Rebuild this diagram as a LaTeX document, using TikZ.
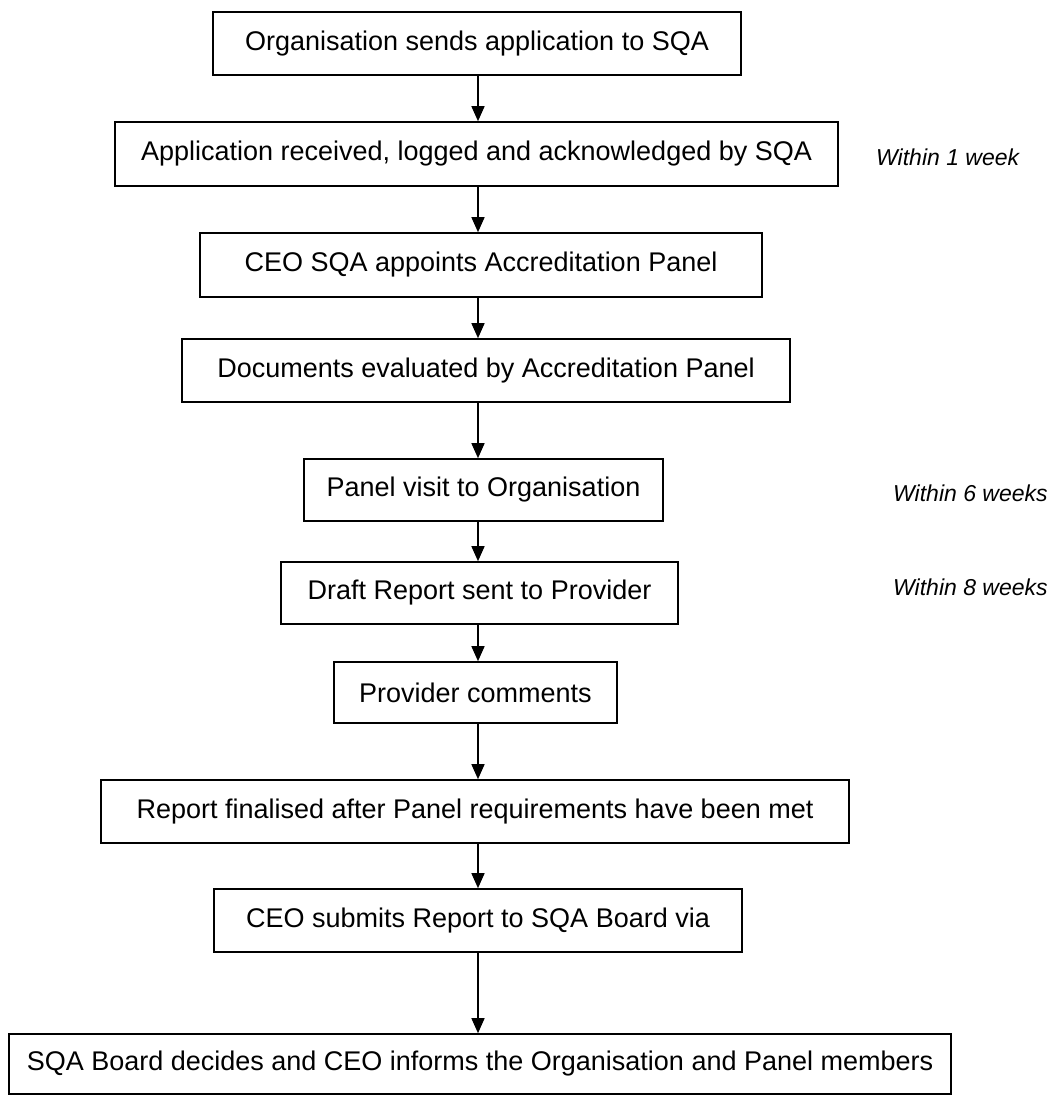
\documentclass[tikz,border=0pt]{standalone}
\usepackage{fontspec}
\setmainfont{Liberation Sans}
\usetikzlibrary{arrows.meta}
\begin{document}
\begin{tikzpicture}[x=1pt,y=1pt,
  stepbox/.style={draw=black,line width=1.6pt,inner sep=0pt,font=\fontsize{27}{32}\selectfont},
  arr/.style={line width=1.4pt,-{Triangle[width=13pt,length=15pt]}},
  note/.style={font=\fontsize{23}{28}\selectfont\itshape,anchor=west,inner sep=0pt}]
\useasboundingbox (0,0) rectangle (1058,-1096);
\newcommand{\mybox}[6]{%
  \node[stepbox,minimum width={#3-#2},minimum height={#5-#4}] (#1) at ({(#2+#3)/2},{-(#4+#5)/2}) {#6};}
\mybox{b1}{213}{741}{12}{75}{Organisation sends application to SQA}
\mybox{b2}{115}{838}{122}{186}{Application received, logged and acknowledged by SQA}
\mybox{b3}{200}{762}{233}{297}{CEO SQA appoints Accreditation Panel}
\mybox{b4}{182}{790}{339}{402}{Documents evaluated by Accreditation Panel}
\mybox{b5}{304}{663}{459}{521}{Panel visit to Organisation}
\mybox{b6}{281}{678}{562}{624}{Draft Report sent to Provider}
\mybox{b7}{334}{617}{662}{723}{Provider comments}
\mybox{b8}{101}{849}{780}{843}{Report finalised after Panel requirements have been met}
\mybox{b9}{214}{742}{889}{952}{CEO submits Report to SQA Board via}
\mybox{b10}{9}{951}{1034}{1094}{SQA Board decides and CEO informs the Organisation and Panel members}
\coordinate (ax) at (478,0);
\foreach \a/\b in {b1/b2,b2/b3,b3/b4,b4/b5,b5/b6,b6/b7,b7/b8,b8/b9,b9/b10}
  \draw[arr] (\a.south -| ax) -- (\b.north -| ax);
\node[note] (n1) at (876,-157) {Within 1 week};
\node[note] (n2) at (893,-493) {Within 6 weeks};
\node[note] (n3) at (893,-587) {Within 8 weeks};
\end{tikzpicture}
\end{document}
